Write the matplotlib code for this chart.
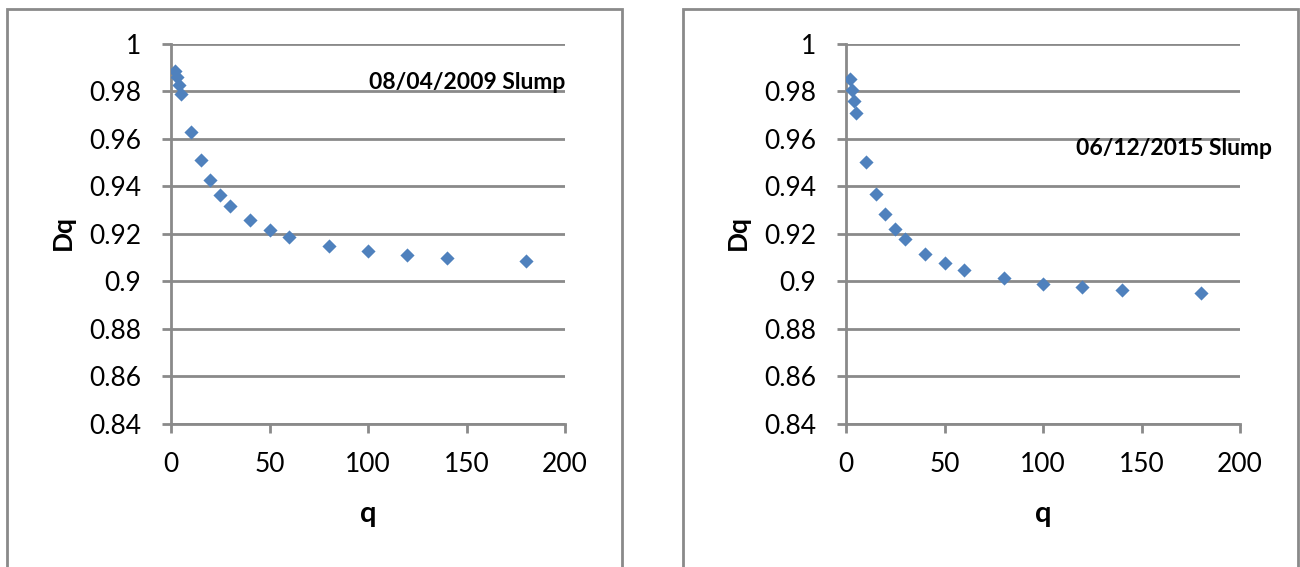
import matplotlib.pyplot as plt
from matplotlib.patches import Rectangle

plt.rcParams['font.family'] = ['Lato', 'DejaVu Sans']

q = [2, 3, 4, 5, 10, 15, 20, 25, 30, 40, 50, 60, 80, 100, 120, 140, 180]
dq_2009 = [0.9886, 0.9860, 0.9825, 0.9789, 0.9628, 0.9510, 0.9425, 0.9362,
           0.9317, 0.9256, 0.9214, 0.9185, 0.9149, 0.9127, 0.9111, 0.9100, 0.9087]
dq_2015 = [0.9851, 0.9806, 0.9758, 0.9707, 0.9503, 0.9368, 0.9282, 0.9221,
           0.9176, 0.9115, 0.9075, 0.9048, 0.9013, 0.8990, 0.8975, 0.8964, 0.8951]
labels = ['08/04/2009 Slump', '06/12/2015 Slump']
label_pos = [(200, 0.9836), (216, 0.9560)]

xticks = [0, 50, 100, 150, 200]
yticks = [0.84, 0.86, 0.88, 0.9, 0.92, 0.94, 0.96, 0.98, 1]
ytick_labels = ['0.84', '0.86', '0.88', '0.9', '0.92', '0.94', '0.96', '0.98', '1']

GRAY = '#8a8a8a'
BLUE = '#4f81bd'

W, H = 1300, 567
fig = plt.figure(figsize=(13, 5.67), dpi=100)

# chart frames (px in figure space)
for x0, x1 in [(7, 622), (683, 1298)]:
    fig.patches.append(Rectangle((x0 / W, -0.1), (x1 - x0) / W, (H - 9) / H + 0.1,
                                 transform=fig.transFigure, fill=False,
                                 edgecolor=GRAY, linewidth=2))

axes_left = [171, 846]
ax_bottom, ax_top = 424, 43.5
ax_h = ax_bottom - ax_top
ylabel_x = [63, 738]

for i, series in enumerate([dq_2009, dq_2015]):
    ax = fig.add_axes([axes_left[i] / W, (H - ax_bottom) / H, 394 / W, ax_h / H])
    ax.scatter(q, series, marker='D', s=52, color=BLUE, zorder=3, linewidths=0)
    ax.set_xlim(0, 200)
    ax.set_ylim(0.84, 1.0)
    ax.set_xticks(xticks)
    ax.set_yticks(yticks)
    ax.set_yticklabels(ytick_labels)
    ax.grid(axis='y', color=GRAY, linewidth=2)
    ax.set_axisbelow(True)
    for s in ['top', 'right']:
        ax.spines[s].set_visible(False)
    for s in ['left', 'bottom']:
        ax.spines[s].set_color(GRAY)
        ax.spines[s].set_linewidth(2)
    ax.tick_params(axis='both', direction='out', length=6.5, width=2,
                   color=GRAY, labelsize=19, labelcolor='black')
    ax.tick_params(axis='y', pad=15)
    ax.tick_params(axis='x', pad=14)
    ax.set_xlabel('q', fontsize=21, fontweight='bold', va='center')
    ax.set_ylabel('Dq', fontsize=19, fontweight='bold', va='center')
    ax.xaxis.set_label_coords(0.5, (ax_bottom - 514) / ax_h)
    ax.yaxis.set_label_coords((ylabel_x[i] - axes_left[i]) / 394, (ax_bottom - 233) / ax_h)
    ax.text(label_pos[i][0], label_pos[i][1], labels[i], ha='right', va='center',
            fontsize=16.5, fontweight='bold', clip_on=False)

fig.savefig('out.png', dpi=100)
